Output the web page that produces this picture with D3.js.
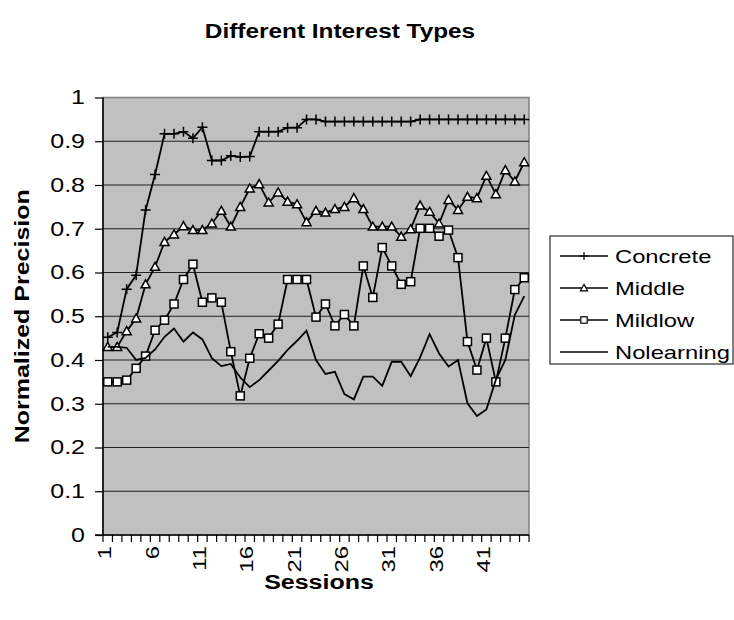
<!DOCTYPE html>
<html>
<head>
<meta charset="utf-8">
<script src="https://d3js.org/d3.v7.min.js"></script>
<style>
  body { margin: 0; background: #fff; }
  text { font-family: "Liberation Sans", Arial, sans-serif; fill: #000; }
</style>
</head>
<body>
<div id="chart"></div>
<script>
// Data
var sessions = d3.range(1, 46);
var concrete = [0.452, 0.463, 0.562, 0.594, 0.743, 0.824, 0.917, 0.917, 0.922, 0.907,
  0.932, 0.856, 0.856, 0.867, 0.864, 0.865, 0.922, 0.922, 0.922, 0.931,
  0.931, 0.95, 0.95, 0.945, 0.945, 0.945, 0.945, 0.945, 0.945, 0.945,
  0.945, 0.945, 0.945, 0.95, 0.95, 0.95, 0.95, 0.95, 0.95, 0.95,
  0.95, 0.95, 0.95, 0.95, 0.95];
var middle = [0.430, 0.430, 0.466, 0.495, 0.573, 0.613, 0.670, 0.687, 0.706, 0.697,
  0.697, 0.712, 0.741, 0.705, 0.750, 0.792, 0.802, 0.760, 0.783, 0.762,
  0.756, 0.715, 0.741, 0.737, 0.745, 0.750, 0.770, 0.745, 0.705, 0.705,
  0.705, 0.682, 0.699, 0.753, 0.739, 0.712, 0.766, 0.743, 0.773, 0.770,
  0.821, 0.779, 0.834, 0.808, 0.852];
var mildlow = [0.350, 0.350, 0.354, 0.381, 0.409, 0.468, 0.491, 0.528, 0.584, 0.619,
  0.532, 0.542, 0.532, 0.419, 0.318, 0.404, 0.460, 0.450, 0.482, 0.584,
  0.584, 0.584, 0.498, 0.528, 0.478, 0.504, 0.478, 0.615, 0.543, 0.657,
  0.615, 0.573, 0.579, 0.701, 0.701, 0.683, 0.697, 0.634, 0.442, 0.377,
  0.450, 0.350, 0.450, 0.561, 0.588];
var nolearning = [0.430, 0.430, 0.428, 0.400, 0.405, 0.424, 0.453, 0.472, 0.442, 0.463,
  0.447, 0.404, 0.386, 0.391, 0.360, 0.338, 0.354, 0.376, 0.398, 0.423,
  0.444, 0.467, 0.400, 0.368, 0.373, 0.322, 0.310, 0.362, 0.362, 0.341,
  0.396, 0.396, 0.363, 0.406, 0.459, 0.415, 0.385, 0.400, 0.301, 0.272,
  0.287, 0.355, 0.400, 0.503, 0.546];
var seriesNames = ["Concrete", "Middle", "Mildlow", "Nolearning"];
var seriesMarkers = ["plus", "triangle", "square", "none"];
var yTicks = [0, 0.1, 0.2, 0.3, 0.4, 0.5, 0.6, 0.7, 0.8, 0.9, 1];
var xLabelSessions = [1, 6, 11, 16, 21, 26, 31, 36, 41];

var series = [concrete, middle, mildlow, nolearning].map(function(vals, i) {
  return {
    name: seriesNames[i],
    marker: seriesMarkers[i],
    values: vals.map(function(v, j) { return {session: sessions[j], value: v}; })
  };
});

// Width and height (note: "top" is a reserved window property, so plot* names)
var w = 734;
var h = 620;
var plotL = 103, plotR = 529, plotT = 97.5, plotB = 535;
var wide = "scale(1.25,1)"; // the source font is drawn wider than Arial

var svg = d3.select("#chart")
  .append("svg")
  .attr("width", w)
  .attr("height", h);

// Scales
var xScale = d3.scaleBand()
  .domain(sessions)
  .range([plotL, plotR]);
var xc = function(s) { return xScale(s) + xScale.bandwidth() / 2; };

var yScale = d3.scaleLinear()
  .domain([0, 1])
  .range([plotB, plotT]);

// Plot background
svg.append("rect")
  .attr("x", plotL)
  .attr("y", plotT)
  .attr("width", plotR - plotL)
  .attr("height", plotB - plotT)
  .style("fill", "#c0c0c0")
  .style("stroke", "#808080")
  .style("stroke-width", 1.5);

// Gridlines
svg.selectAll(".grid")
  .data(yTicks.slice(1, -1))
  .enter().append("line")
  .attr("x1", plotL)
  .attr("x2", plotR)
  .attr("y1", function(d) { return yScale(d); })
  .attr("y2", function(d) { return yScale(d); })
  .style("stroke", "#222")
  .style("stroke-width", 1.2);

// Y axis
var yAxis = d3.axisLeft(yScale)
  .tickValues(yTicks)
  .tickSize(8)
  .tickFormat(function(d) { return d === 0 || d === 1 ? d : d.toFixed(1); });

var yg = svg.append("g")
  .attr("transform", "translate(" + plotL + ",0)")
  .call(yAxis);
yg.select(".domain").remove();
yg.selectAll(".tick line").style("stroke", "#000").style("stroke-width", 1.2);
yg.selectAll(".tick text")
  .attr("x", 0)
  .attr("transform", "translate(-18,0) " + wide)
  .style("font-size", "20px")
  .style("font-family", "Liberation Sans, Arial, sans-serif");

svg.append("line")
  .attr("x1", plotL).attr("x2", plotL)
  .attr("y1", plotT).attr("y2", plotB)
  .style("stroke", "#000").style("stroke-width", 1.5);

// X axis: ticks between categories
var boundaries = sessions.map(function(s) { return xScale(s); }).concat([plotR]);
svg.selectAll(".xtick")
  .data(boundaries)
  .enter().append("line")
  .attr("x1", function(d) { return d; })
  .attr("x2", function(d) { return d; })
  .attr("y1", plotB)
  .attr("y2", plotB + 7)
  .style("stroke", "#000")
  .style("stroke-width", 1.2);

svg.append("line")
  .attr("x1", plotL - 8).attr("x2", plotR)
  .attr("y1", plotB).attr("y2", plotB)
  .style("stroke", "#000").style("stroke-width", 1.5);

svg.selectAll(".xlabel")
  .data(xLabelSessions)
  .enter().append("text")
  .attr("transform", function(d) {
    return "translate(" + (xc(d) - 3) + "," + (plotB + 11) + ") rotate(-90) " + wide;
  })
  .attr("dy", "0.35em")
  .style("text-anchor", "end")
  .style("font-size", "19px")
  .text(function(d) { return d; });

// Lines
var line = d3.line()
  .x(function(d) { return xc(d.session); })
  .y(function(d) { return yScale(d.value); });

var groups = svg.selectAll(".series")
  .data(series)
  .enter().append("g")
  .attr("class", "series");

groups.append("path")
  .attr("d", function(d) { return line(d.values); })
  .style("fill", "none")
  .style("stroke", "#000")
  .style("stroke-width", 1.8);

// Markers
function drawMarker(sel, type) {
  if (type === "plus") {
    sel.append("path")
      .attr("d", "M-5,0H5M0,-5V5")
      .style("stroke", "#000")
      .style("stroke-width", 1.5);
  } else if (type === "triangle") {
    sel.append("path")
      .attr("d", "M0,-4.5L4.5,3.5L-4.5,3.5Z")
      .style("fill", "#fff")
      .style("stroke", "#000")
      .style("stroke-width", 1.5);
  } else if (type === "square") {
    sel.append("rect")
      .attr("x", -4).attr("y", -4)
      .attr("width", 8).attr("height", 8)
      .style("fill", "#fff")
      .style("stroke", "#000")
      .style("stroke-width", 1.5);
  }
}

groups.each(function(d) {
  if (d.marker === "none") return;
  d3.select(this).selectAll(".pt")
    .data(d.values)
    .enter().append("g")
    .attr("transform", function(p) { return "translate(" + xc(p.session) + "," + yScale(p.value) + ")"; })
    .call(drawMarker, d.marker);
});

// Title and axis titles
svg.append("text")
  .attr("transform", "translate(340,38) " + wide)
  .style("text-anchor", "middle")
  .style("font-size", "19.5px")
  .style("font-weight", "bold")
  .text("Different Interest Types");

svg.append("text")
  .attr("transform", "translate(29," + ((plotT + plotB) / 2) + ") rotate(-90) " + wide)
  .style("text-anchor", "middle")
  .style("font-size", "20px")
  .style("font-weight", "bold")
  .text("Normalized Precision");

svg.append("text")
  .attr("transform", "translate(" + ((plotL + plotR) / 2 + 3) + ",589) " + wide)
  .style("text-anchor", "middle")
  .style("font-size", "20px")
  .style("font-weight", "bold")
  .text("Sessions");

// Legend
var legend = svg.append("g")
  .attr("transform", "translate(550,236)");

legend.append("rect")
  .attr("width", 183)
  .attr("height", 128)
  .style("fill", "#fff")
  .style("stroke", "#000")
  .style("stroke-width", 1);

var items = legend.selectAll(".item")
  .data(series)
  .enter().append("g")
  .attr("transform", function(d, i) { return "translate(0," + (20 + i * 32) + ")"; });

items.append("line")
  .attr("x1", 10).attr("x2", 58)
  .style("stroke", "#000")
  .style("stroke-width", 1.5);

items.each(function(d) {
  d3.select(this).append("g")
    .attr("transform", "translate(34,0) scale(0.8)")
    .call(drawMarker, d.marker);
});

items.append("text")
  .attr("transform", "translate(65,0) " + wide)
  .attr("dy", "0.35em")
  .style("font-size", "19px")
  .text(function(d) { return d.name; });
</script>
</body>
</html>
